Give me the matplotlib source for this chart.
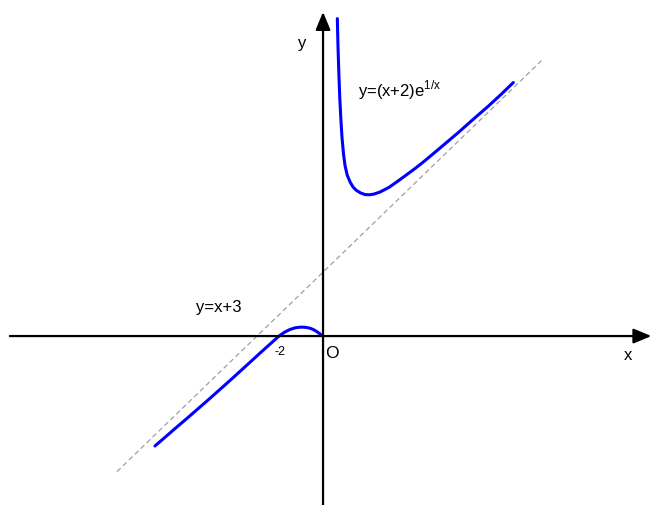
import numpy as np
import matplotlib.pyplot as plt

plt.rcParams['font.family'] = ['Liberation Sans', 'DejaVu Sans']

x_right = [0.65, 0.68, 0.72, 0.76, 0.81, 0.86, 0.93, 1.0, 1.1, 1.23, 1.36,
           1.5, 1.7, 1.91, 2.1, 2.3, 2.59, 3.0, 3.4, 3.73, 4.1, 4.5, 5.0,
           5.62, 6.2, 6.8, 7.5, 8.1, 8.65]
y_right = [14.9, 13.6, 12.3, 11.2, 10.2, 9.35, 8.55, 8.0, 7.55, 7.23, 7.0,
           6.85, 6.72, 6.64, 6.63, 6.66, 6.76, 6.98, 7.27, 7.52, 7.8, 8.12,
           8.55, 9.09, 9.6, 10.15, 10.78, 11.35, 11.9]

x_left = [-7.64, -7.2, -6.7, -6.2, -5.7, -5.2, -4.7, -4.2, -3.7, -3.2, -2.8,
          -2.4, -2.0, -1.75, -1.5, -1.25, -1.0, -0.8, -0.6, -0.45, -0.3,
          -0.15, -0.05]
y_left = [-5.16, -4.77, -4.32, -3.88, -3.43, -2.98, -2.52, -2.06, -1.59,
          -1.12, -0.74, -0.37, 0.0, 0.18, 0.31, 0.39, 0.42, 0.41, 0.37, 0.31,
          0.22, 0.11, 0.03]

# oblique asymptote y = x + 3, drawn between these ends
asym_x = [-9.36, 10.0]
asym_y = [-6.36, 13.0]

fig = plt.figure(figsize=(6.52, 5.06), dpi=100)
ax = fig.add_axes([0, 0, 1, 1])
ax.set_xlim(-14.68, 14.95)
ax.set_ylim(-7.93, 15.82)
ax.axis('off')

# axes with arrows
arr = dict(arrowstyle='-|>,head_length=0.6,head_width=0.25', lw=1.6,
           color='black', mutation_scale=18, shrinkA=0, shrinkB=0)
ax.annotate('', xy=(14.92, 0), xytext=(-14.23, 0), arrowprops=arr)
ax.annotate('', xy=(0, 15.21), xytext=(0, -7.93), arrowprops=arr)

ax.plot(asym_x, asym_y, color='#a0a0a0', lw=0.9, linestyle=(0, (4, 2.6)))
ax.plot(x_right, y_right, color='#0000ff', lw=2.2, solid_capstyle='round',
        solid_joinstyle='round')
ax.plot(x_left, y_left, color='#0000ff', lw=2.2, solid_capstyle='round',
        solid_joinstyle='round')

ax.text(1.59, 11.31, r'y=(x+2)e$^{\mathregular{1/x}}$', fontsize=12,
        ha='left', va='baseline')
ax.text(-4.73, 1.41, 'y=x+3', fontsize=12, ha='center', va='center')
ax.text(-0.96, 13.8, 'y', fontsize=12, ha='center', va='center')
ax.text(13.86, -0.85, 'x', fontsize=12, ha='center', va='center')
ax.text(-1.95, -0.72, '-2', fontsize=9, ha='center', va='center')
ax.text(0.42, -0.77, 'O', fontsize=12.5, ha='center', va='center')

fig.savefig('out.png', dpi=100)
